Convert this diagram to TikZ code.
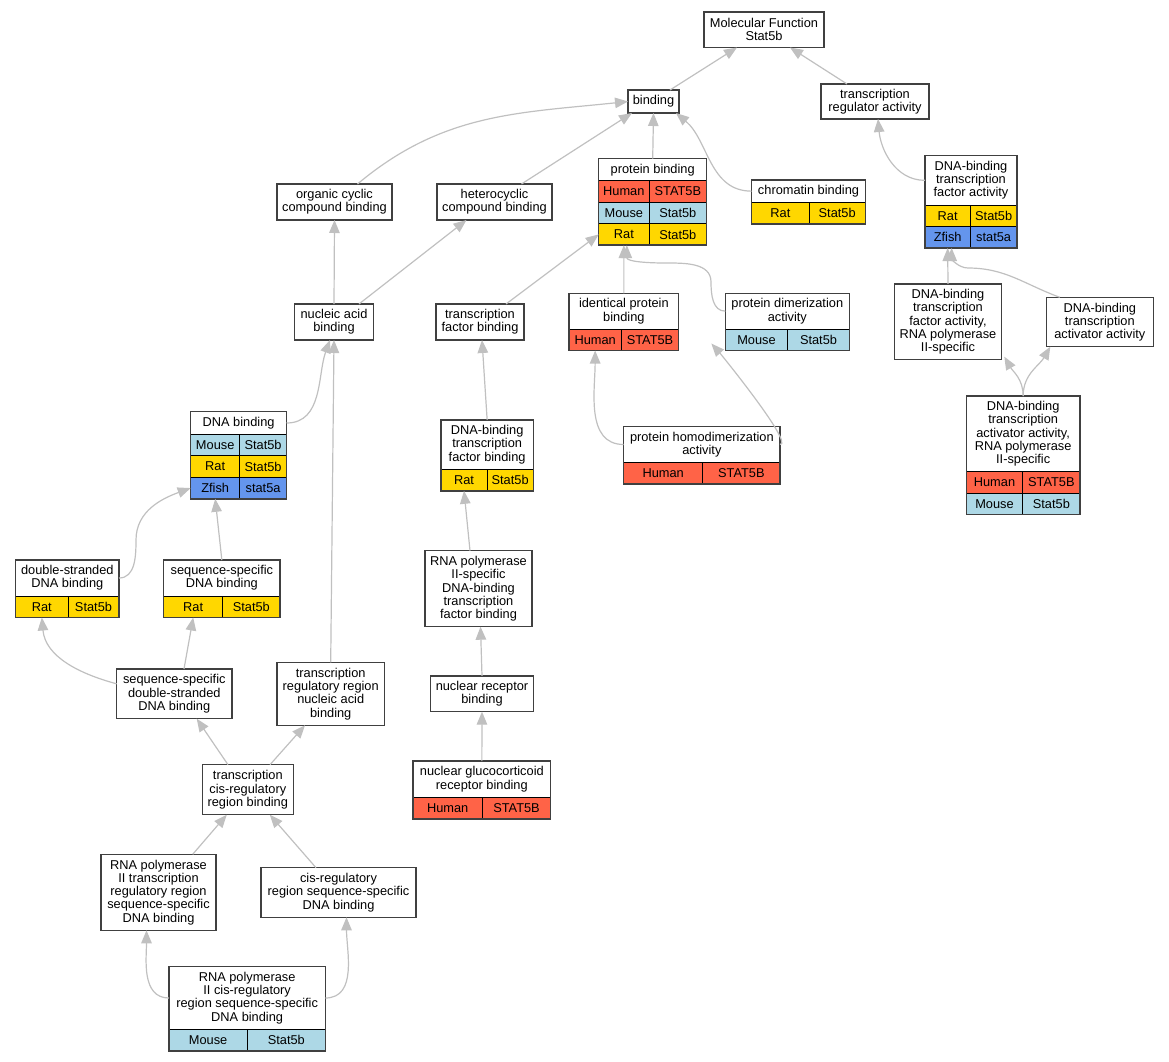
\documentclass[tikz,border=0pt]{standalone}
\usepackage{fontspec}
\setmainfont{Liberation Sans}
\usepackage{xcolor}
\usepackage{tikz}
\usetikzlibrary{
    arrows.meta
}
\definecolor{human}{HTML}{FF6347}
\definecolor{mouse}{HTML}{ADD8E6}
\definecolor{rat}{HTML}{FFD700}
\definecolor{zfish}{HTML}{6495ED}
\definecolor{edgegray}{HTML}{C0C0C0}
\definecolor{boxgray}{HTML}{404040}
\newcommand{\gofont}{\fontsize{12.8}{13.3}\selectfont}
\tikzset{
    term/.style={draw=boxgray, line width=1.5pt, fill=white, align=center, inner sep=0pt, outer sep=0pt, font=\gofont},
    head/.style={draw=black, line width=0.8pt, fill=white, align=center, inner sep=0pt, outer sep=0pt, font=\gofont},
    cell/.style={draw=black, line width=0.8pt, minimum height=21.5pt, inner sep=0pt, outer sep=0pt, font=\gofont},
    tableframe/.style={draw=boxgray, line width=1.5pt},
    isa/.style={draw=edgegray, line width=1.2pt, -{Triangle[length=13pt,width=10.5pt]}}
}
% one species row of a table: name, node above, widths, colour, species, gene
\newcommand{\generow}[7]{%
    \node[cell, fill=#5, minimum width=#3, anchor=north west] (#1a) at (#2.south west) {#6};
    \node[cell, fill=#5, minimum width=#4, anchor=north west] (#1b) at (#1a.north east) {#7};
}

\begin{document}
\begin{tikzpicture}[x=1pt, y=-1pt]
        \useasboundingbox (0,0) rectangle (1169,1061);

        % plain terms
        \node[term, minimum width=120pt, minimum height=35.5pt] (mf) at (764,29.75) {Molecular Function\\Stat5b};
        \node[term, minimum width=51pt, minimum height=23pt] (bind) at (653.5,101.5) {binding};
        \node[term, minimum width=108pt, minimum height=35pt] (tra) at (875,101.5) {transcription\\regulator activity};
        \node[term, minimum width=115pt, minimum height=36pt] (occb) at (334.5,202) {organic cyclic\\compound binding};
        \node[term, minimum width=115pt, minimum height=36pt] (hccb) at (494.5,202) {heterocyclic\\compound binding};
        \node[term, minimum width=79pt, minimum height=36pt] (nab) at (334,322) {nucleic acid\\binding};
        \node[term, minimum width=88pt, minimum height=36pt] (tfb) at (480,322) {transcription\\factor binding};
        \node[term, minimum width=106.6pt, minimum height=75.7pt] (dbtfa2) at (948,321.8) {DNA-binding\\transcription\\factor activity,\\RNA polymerase\\II-specific};
        \node[term, minimum width=107pt, minimum height=49.4pt] (dbtaa) at (1099.8,322) {DNA-binding\\transcription\\activator activity};
        \node[term, minimum width=107pt, minimum height=76pt] (rnap2tfb) at (478.5,588.7) {RNA polymerase\\II-specific\\DNA-binding\\transcription\\factor binding};
        \node[term, minimum width=115.3pt, minimum height=49.7pt] (ssdsdb) at (174.3,693.8) {sequence-specific\\double-stranded\\DNA binding};
        \node[term, minimum width=107.3pt, minimum height=63pt] (trrnab) at (330.7,693.8) {transcription\\regulatory region\\nucleic acid\\binding};
        \node[term, minimum width=102.6pt, minimum height=35.7pt] (nrb) at (482,693.8) {nuclear receptor\\binding};
        \node[term, minimum width=91pt, minimum height=50pt] (tcrb) at (247.8,789.7) {transcription\\cis-regulatory\\region binding};
        \node[term, minimum width=115pt, minimum height=76pt] (rnap2trr) at (158.5,892.3) {RNA polymerase\\II transcription\\regulatory region\\sequence-specific\\DNA binding};
        \node[term, minimum width=155pt, minimum height=49.6pt] (crssdb) at (338.5,892.5) {cis-regulatory\\region sequence-specific\\DNA binding};

        % terms with species tables
        \node[head, minimum width=108pt, minimum height=22pt] (pb) at (652.7,169.7) {protein binding};
        \generow{pbH}{pb}{50.3pt}{57.7pt}{human}{Human}{STAT5B}
        \generow{pbM}{pbHa}{50.3pt}{57.7pt}{mouse}{Mouse}{Stat5b}
        \generow{pbR}{pbMa}{50.3pt}{57.7pt}{rat}{Rat}{Stat5b}
        \draw[tableframe] (pb.north west) rectangle (pbRb.south east);

        \node[head, minimum width=113.6pt, minimum height=22.3pt] (cb) at (808.5,191.15) {chromatin binding};
        \generow{cbR}{cb}{57.3pt}{56.3pt}{rat}{Rat}{Stat5b}
        \draw[tableframe] (cb.north west) rectangle (cbRb.south east);

        \node[head, minimum width=92pt, minimum height=49.3pt] (dbtfa) at (971,180.35) {DNA-binding\\transcription\\factor activity};
        \generow{dbtfaR}{dbtfa}{45.3pt}{46.7pt}{rat}{Rat}{Stat5b}
        \generow{dbtfaZ}{dbtfaRa}{45.3pt}{46.7pt}{zfish}{Zfish}{stat5a}
        \draw[tableframe] (dbtfa.north west) rectangle (dbtfaZb.south east);

        \node[head, minimum width=109.7pt, minimum height=35.7pt] (ipb) at (623.85,311.15) {identical protein\\binding};
        \generow{ipbH}{ipb}{52.3pt}{57.4pt}{human}{Human}{STAT5B}
        \draw[tableframe] (ipb.north west) rectangle (ipbHb.south east);

        \node[head, minimum width=124pt, minimum height=35.7pt] (pda) at (787.3,311.15) {protein dimerization\\activity};
        \generow{pdaM}{pda}{62.4pt}{61.6pt}{mouse}{Mouse}{Stat5b}
        \draw[tableframe] (pda.north west) rectangle (pdaMb.south east);

        \node[head, minimum width=95.8pt, minimum height=22.6pt] (db) at (238.6,423) {DNA binding};
        \generow{dbM}{db}{49pt}{46.8pt}{mouse}{Mouse}{Stat5b}
        \generow{dbR}{dbMa}{49pt}{46.8pt}{rat}{Rat}{Stat5b}
        \generow{dbZ}{dbRa}{49pt}{46.8pt}{zfish}{Zfish}{stat5a}
        \draw[tableframe] (db.north west) rectangle (dbZb.south east);

        \node[head, minimum width=92.3pt, minimum height=49.3pt] (dbtfb) at (487.15,444.65) {DNA-binding\\transcription\\factor binding};
        \generow{dbtfbR}{dbtfb}{46pt}{46.3pt}{rat}{Rat}{Stat5b}
        \draw[tableframe] (dbtfb.north west) rectangle (dbtfbRb.south east);

        \node[head, minimum width=156.3pt, minimum height=35.6pt] (phda) at (701.85,444.5) {protein homodimerization\\activity};
        \generow{phdaH}{phda}{79pt}{77.3pt}{human}{Human}{STAT5B}
        \draw[tableframe] (phda.north west) rectangle (phdaHb.south east);

        \node[head, minimum width=113.7pt, minimum height=75.7pt] (dbtaa2) at (1023.15,433.85) {DNA-binding\\transcription\\activator activity,\\RNA polymerase\\II-specific};
        \generow{dbtaa2H}{dbtaa2}{56.4pt}{57.3pt}{human}{Human}{STAT5B}
        \generow{dbtaa2M}{dbtaa2Ha}{56.4pt}{57.3pt}{mouse}{Mouse}{Stat5b}
        \draw[tableframe] (dbtaa2.north west) rectangle (dbtaa2Mb.south east);

        \node[head, minimum width=103.3pt, minimum height=36pt] (dsdb) at (67.35,578) {double-stranded\\DNA binding};
        \generow{dsdbR}{dsdb}{52.3pt}{51pt}{rat}{Rat}{Stat5b}
        \draw[tableframe] (dsdb.north west) rectangle (dsdbRb.south east);

        \node[head, minimum width=116.3pt, minimum height=36pt] (ssdb) at (221.85,578) {sequence-specific\\DNA binding};
        \generow{ssdbR}{ssdb}{59pt}{57.3pt}{rat}{Rat}{Stat5b}
        \draw[tableframe] (ssdb.north west) rectangle (ssdbRb.south east);

        \node[head, minimum width=137.7pt, minimum height=36.3pt] (ngrb) at (481.85,779.15) {nuclear glucocorticoid\\receptor binding};
        \generow{ngrbH}{ngrb}{69.3pt}{68.4pt}{human}{Human}{STAT5B}
        \draw[tableframe] (ngrb.north west) rectangle (ngrbHb.south east);

        \node[head, minimum width=156.3pt, minimum height=62.6pt] (rnap2crssdb) at (247.15,998) {RNA polymerase\\II cis-regulatory\\region sequence-specific\\DNA binding};
        \generow{rnap2crssdbM}{rnap2crssdb}{78.3pt}{78pt}{mouse}{Mouse}{Stat5b}
        \draw[tableframe] (rnap2crssdb.north west) rectangle (rnap2crssdbMb.south east);

        % is-a edges, child to parent
        \draw[isa] ([xshift=16.5pt]bind.north) -- ([xshift=-27pt]mf.south);
        \draw[isa] ([xshift=-28pt]tra.north) -- ([xshift=26pt]mf.south);
        \draw[isa] (pb.north) -- (bind.south);
        \draw[isa] (cb.west) to[out=180, in=-40] ([xshift=-3pt]bind.south east);
        \draw[isa] ([xshift=27pt]hccb.north) -- ([xshift=4pt]bind.south west);
        \draw[isa] ([xshift=23pt]occb.north) to[out=40, in=-174] (bind.west);
        \draw[isa] (nab.north) -- (occb.south);
        \draw[isa] ([xshift=25pt]nab.north) -- ([xshift=-28pt]hccb.south);
        \draw[isa] ([xshift=26pt]tfb.north) -- (pbRa.west);
        \draw[isa] (ipb.north) -- (pbRa.south);
        \draw[isa] (pda.west) to[out=180, in=-90] (711,282) to[out=90, in=0] (665,263) to[out=180, in=-90] ([xshift=3pt]pbRa.south);
        \draw[isa] (phda.west) to[out=180, in=-90] (ipbHa.south);
        \draw[isa] (phda.east) to[out=0, in=-48, looseness=0.3] ([xshift=-14pt, yshift=7pt]pdaMa.south west);
        \draw[isa] (dbtfb.north) -- ([xshift=2pt]tfb.south);
        \draw[isa] ([xshift=-8.5pt]rnap2tfb.north) -- (dbtfbRa.south);
        \draw[isa] (nrb.north) -- ([xshift=2pt]rnap2tfb.south);
        \draw[isa] (ngrb.north) -- (nrb.south);
        \draw[isa] (db.east) to[out=0, in=-110] ([xshift=-4pt]nab.south);
        \draw[isa] (trrnab.north) -- (nab.south);
        \draw[isa] (dsdb.east) to[out=0, in=-90] (136,540) to[out=90, in=200] (dbZa.west);
        \draw[isa] (ssdb.north) -- (dbZa.south);
        \draw[isa] ([yshift=10pt]ssdsdb.west) to[out=165, in=-85] (dsdbRa.south);
        \draw[isa] ([xshift=9.7pt]ssdsdb.north) -- (ssdbRa.south);
        \draw[isa] ([xshift=-19.8pt]tcrb.north) -- ([xshift=22.4pt]ssdsdb.south);
        \draw[isa] ([xshift=22.2pt]tcrb.north) -- ([xshift=-25.7pt]trrnab.south);
        \draw[isa] ([xshift=34.2pt]rnap2trr.north) -- ([xshift=-21pt]tcrb.south);
        \draw[isa] ([xshift=-22.5pt]crssdb.north) -- ([xshift=22pt]tcrb.south);
        \draw[isa] (rnap2crssdb.west) to[out=180, in=-90] ([xshift=-12pt]rnap2trr.south);
        \draw[isa] (rnap2crssdb.east) to[out=0, in=-90] ([xshift=8pt]crssdb.south);
        \draw[isa] (dbtfa.west) to[out=180, in=-85] ([xshift=3pt]tra.south);
        \draw[isa] (dbtfa2.north) -- (dbtfaZa.south);
        \draw[isa] ([xshift=-40pt]dbtaa.north) to[out=160, in=0] (968,268) to[out=180, in=-90] ([xshift=4pt]dbtfaZa.south);
        \draw[isa] (dbtaa2.north) to[out=90, in=-60] ([xshift=3pt, yshift=3pt]dbtfa2.south east);
        \draw[isa] (dbtaa2.north) to[out=90, in=-120] ([xshift=4pt]dbtaa.south west);
    \end{tikzpicture}
\end{document}
